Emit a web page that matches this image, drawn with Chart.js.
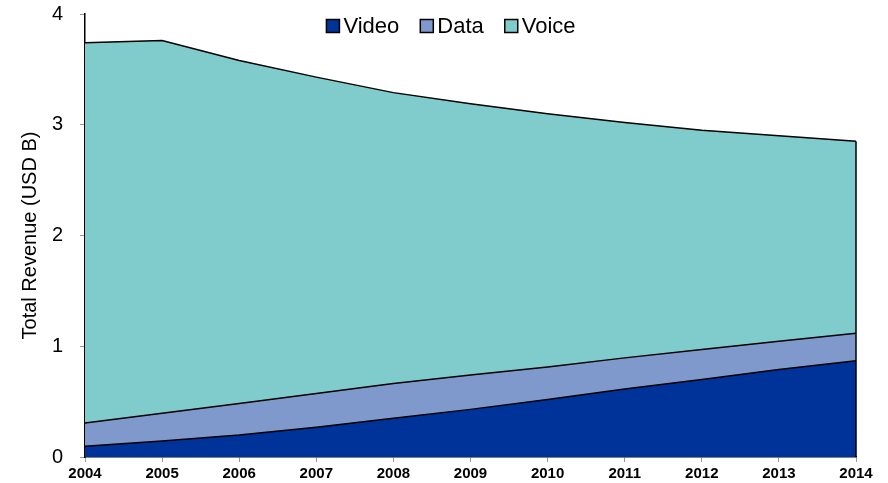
<!DOCTYPE html>
<html>
<head>
<meta charset="utf-8">
<script src="https://cdn.jsdelivr.net/npm/chart.js@4/dist/chart.umd.min.js"></script>
<style>
  html, body { margin: 0; padding: 0; background: #fff; }
  #wrap { width: 888px; height: 483px; }
</style>
</head>
<body>
<div id="wrap"><canvas id="c" width="888" height="483"></canvas></div>
<script>
// Revenue by service, USD billions (stacked)
const years = ['2004','2005','2006','2007','2008','2009','2010','2011','2012','2013','2014'];
const video = [0.096, 0.145, 0.198, 0.268, 0.349, 0.43, 0.52, 0.613, 0.70, 0.79, 0.868];
const data  = [0.210, 0.250, 0.286, 0.306, 0.315, 0.31, 0.293, 0.282, 0.27, 0.255, 0.249];
const voice = [3.434, 3.365, 3.096, 2.856, 2.626, 2.45, 2.287, 2.125, 1.98, 1.855, 1.733];
const yTicks = [0, 1, 2, 3, 4];

const FONT = '"Liberation Sans", Arial, sans-serif';

// Closes the stacked outline on the right edge of the last year
const rightEdge = {
  id: 'rightEdge',
  afterDatasetsDraw(chart) {
    const x = chart.scales.x, y = chart.scales.y;
    const i = years.length - 1;
    const total = video[i] + data[i] + voice[i];
    const ctx = chart.ctx;
    ctx.save();
    ctx.strokeStyle = '#000';
    ctx.lineWidth = 1.5;
    ctx.beginPath();
    ctx.moveTo(x.getPixelForValue(i), y.getPixelForValue(0));
    ctx.lineTo(x.getPixelForValue(i), y.getPixelForValue(total));
    ctx.stroke();
    ctx.restore();
  }
};

// Legend drawn on top of the filled areas, centred near the top of the plot
const overlayLegend = {
  id: 'overlayLegend',
  afterDraw(chart) {
    const ctx = chart.ctx;
    const sets = chart.data.datasets;
    const box = 13, gapText = 4, gapItem = 21, size = 22;
    ctx.save();
    ctx.font = size + 'px ' + FONT;
    ctx.textBaseline = 'middle';
    ctx.textAlign = 'left';
    const widths = sets.map(d => ctx.measureText(d.label).width);
    const total = widths.reduce((a, w) => a + box + gapText + w, 0) + gapItem * (sets.length - 1);
    let x = 451 - total / 2;
    const cy = chart.chartArea.top + 12;
    sets.forEach((d, i) => {
      ctx.fillStyle = d.backgroundColor;
      ctx.fillRect(x, cy - box / 2, box, box);
      ctx.strokeStyle = '#000';
      ctx.lineWidth = 1.5;
      ctx.strokeRect(x, cy - box / 2, box, box);
      x += box + gapText;
      ctx.fillStyle = '#000';
      ctx.fillText(d.label, x, cy + 1);
      x += widths[i] + gapItem;
    });
    ctx.restore();
  }
};

const common = { borderColor: '#000', borderWidth: 1.5, pointRadius: 0, tension: 0 };

new Chart(document.getElementById('c'), {
  type: 'line',
  data: {
    labels: years,
    datasets: [
      Object.assign({ label: 'Video', data: video, backgroundColor: '#003399', fill: 'origin' }, common),
      Object.assign({ label: 'Data',  data: data,  backgroundColor: '#7f99cc', fill: '-1' }, common),
      Object.assign({ label: 'Voice', data: voice, backgroundColor: '#80cccc', fill: '-1' }, common)
    ]
  },
  plugins: [rightEdge, overlayLegend],
  options: {
    responsive: false,
    animation: false,
    layout: { padding: { top: 14, right: 32, left: 0, bottom: 0 } },
    plugins: {
      legend: { display: false },
      tooltip: { enabled: false }
    },
    scales: {
      x: {
        offset: false,
        border: { color: '#000', width: 1.5 },
        grid: { drawOnChartArea: false, drawTicks: true, tickLength: 5, color: '#999' },
        ticks: { color: '#000', font: { family: FONT, size: 15, weight: 'bold' }, padding: 3, maxRotation: 0, autoSkip: false },
        afterFit(s) { s.height = 26; s.paddingLeft = 0; s.paddingRight = 0; }
      },
      y: {
        stacked: true,
        min: 0,
        max: 4,
        afterBuildTicks(s) { s.ticks = yTicks.map(v => ({ value: v })); },
        border: { color: '#000', width: 1.5 },
        grid: { drawOnChartArea: false, drawTicks: true, tickLength: 5, color: '#999' },
        ticks: { color: '#000', font: { family: FONT, size: 20 }, padding: 17 },
        title: { display: true, text: 'Total Revenue (USD B)', color: '#000', font: { family: FONT, size: 20 }, padding: { top: 18, bottom: 0 } },
        afterFit(s) { s.width = 85; s.paddingTop = 0; s.paddingBottom = 0; }
      }
    }
  }
});
</script>
</body>
</html>
